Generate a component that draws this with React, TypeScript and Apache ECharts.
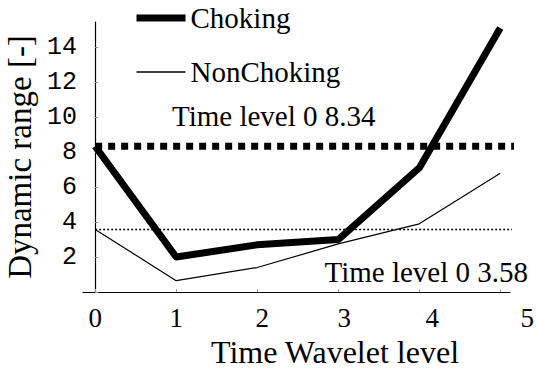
import React, { useEffect, useRef } from "react";
import * as echarts from "echarts";

const waveletLevels = [0, 1, 2, 3, 4, 5];
const choking = [8.34, 2.0, 2.7, 3.0, 7.1, 15.1];
const nonChoking = [3.58, 0.65, 1.4, 2.75, 3.9, 6.8];
const xTickLabels = ["0", "1", "2", "3", "4", "5"];
const xTickShift = [0, 0, 5, 6, 13, 27];
const yTickLabels = [2, 4, 6, 8, 10, 12, 14];
const chokingLevel0 = 8.34;
const nonChokingLevel0 = 3.58;
const chokingRefEnd = 5.28;
const nonChokingRefEnd = 5.2;

const SERIF = "Liberation Serif";
const MONO = "Liberation Mono";

export default function App() {
  const ref = useRef<HTMLDivElement>(null);
  useEffect(() => {
    if (!ref.current) return;
    const chart = echarts.init(ref.current, undefined, { renderer: "svg" });
    const rich: Record<string, any> = {};
    xTickShift.forEach((s, i) => {
      rich["s" + i] = {
        fontFamily: SERIF,
        fontSize: 27,
        color: "#000",
        padding: [0, 0, 0, s * 2],
      };
    });
    const hiddenSymbol = { color: "rgba(0,0,0,0)", borderColor: "rgba(0,0,0,0)", borderWidth: 0, opacity: 0 };
    chart.setOption({
      animation: false,
      backgroundColor: "#fff",
      textStyle: { fontFamily: SERIF },
      grid: {
        left: 83,
        right: 26,
        top: 22,
        bottom: 77,
        containLabel: false,
        outerBoundsMode: "none",
      },
      legend: {
        orient: "vertical",
        left: 133,
        top: 3,
        padding: 0,
        itemWidth: 49,
        itemHeight: 14,
        itemGap: 24,
        itemStyle: hiddenSymbol,
        textStyle: {
          fontFamily: SERIF,
          fontSize: 29,
          lineHeight: 30,
          color: "#000",
        },
        data: [
          { name: "Choking", itemStyle: hiddenSymbol, lineStyle: { width: 7, color: "#000" } },
          { name: "NonChoking", itemStyle: hiddenSymbol, lineStyle: { width: 1.5, color: "#000" } },
        ],
      },
      xAxis: {
        type: "value",
        min: -0.15,
        max: 5.12,
        splitNumber: 5,
        splitLine: { show: false },
        axisLine: { lineStyle: { color: "#000", width: 1.2 } },
        axisTick: { inside: true, length: 3, lineStyle: { color: "#999" } },
        axisLabel: {
          margin: 12,
          fontFamily: SERIF,
          showMinLabel: false,
          showMaxLabel: false,
          formatter: (v: number) => {
            const r = Math.round(v);
            if (Math.abs(v - r) > 1e-6 || r < 0 || r > 5) return "";
            const idx = waveletLevels.indexOf(r);
            return idx < 0 ? "" : `{s${idx}|${xTickLabels[idx]}}`;
          },
          rich,
        },
        name: "Time Wavelet level",
        nameLocation: "middle",
        nameGap: 44,
        nameTextStyle: {
          fontFamily: SERIF,
          fontSize: 32,
          color: "#000",
          padding: [0, 0, 0, 77],
        },
      },
      yAxis: {
        type: "value",
        min: 0,
        max: 15.45,
        interval: 2,
        splitLine: { show: false },
        axisLine: { show: true, onZero: true, lineStyle: { color: "#000", width: 1.2 } },
        axisTick: { show: true, inside: true, length: 3, lineStyle: { color: "#999" } },
        axisLabel: {
          margin: 6,
          fontFamily: MONO,
          fontSize: 25,
          color: "#000",
          showMaxLabel: false,
          formatter: (v: number) => (yTickLabels.indexOf(v) >= 0 ? String(v) : ""),
        },
        name: "Dynamic range [-]",
        nameLocation: "middle",
        nameGap: 45,
        nameTextStyle: { fontFamily: SERIF, fontSize: 33, color: "#000" },
      },
      graphic: [
        {
          type: "text",
          x: 172,
          y: 116,
          style: {
            text: `Time level 0 ${chokingLevel0}`,
            fontFamily: SERIF,
            fontSize: 29,
            fill: "#000",
            align: "left",
            verticalAlign: "middle",
          },
        },
        {
          type: "text",
          x: 528,
          y: 272,
          style: {
            text: `Time level 0 ${nonChokingLevel0}`,
            fontFamily: SERIF,
            fontSize: 29,
            fill: "#000",
            align: "right",
            verticalAlign: "middle",
          },
        },
      ],
      series: [
        {
          name: "Choking",
          type: "line",
          data: waveletLevels.map((x, i) => [x, choking[i]]),
          symbol: "none",
          clip: false,
          lineStyle: { color: "#000", width: 7, join: "round" },
          itemStyle: { color: "#000" },
          z: 4,
        },
        {
          name: "NonChoking",
          type: "line",
          data: waveletLevels.map((x, i) => [x, nonChoking[i]]),
          symbol: "none",
          clip: false,
          lineStyle: { color: "#000", width: 1.2 },
          itemStyle: { color: "#000" },
          z: 3,
        },
        {
          name: "Choking level 0",
          type: "line",
          data: [
            [0, chokingLevel0],
            [chokingRefEnd, chokingLevel0],
          ],
          symbol: "none",
          clip: false,
          lineStyle: { color: "#000", width: 7, type: [7, 6] },
          z: 2,
        },
        {
          name: "NonChoking level 0",
          type: "line",
          data: [
            [0, nonChokingLevel0],
            [nonChokingRefEnd, nonChokingLevel0],
          ],
          symbol: "none",
          clip: false,
          lineStyle: { color: "#000", width: 1.5, type: [2, 2] },
          z: 2,
        },
      ],
    });
    return () => chart.dispose();
  }, []);
  return <div ref={ref} style={{ width: 536, height: 369, position: "absolute", left: 0, top: 0 }} />;
}
